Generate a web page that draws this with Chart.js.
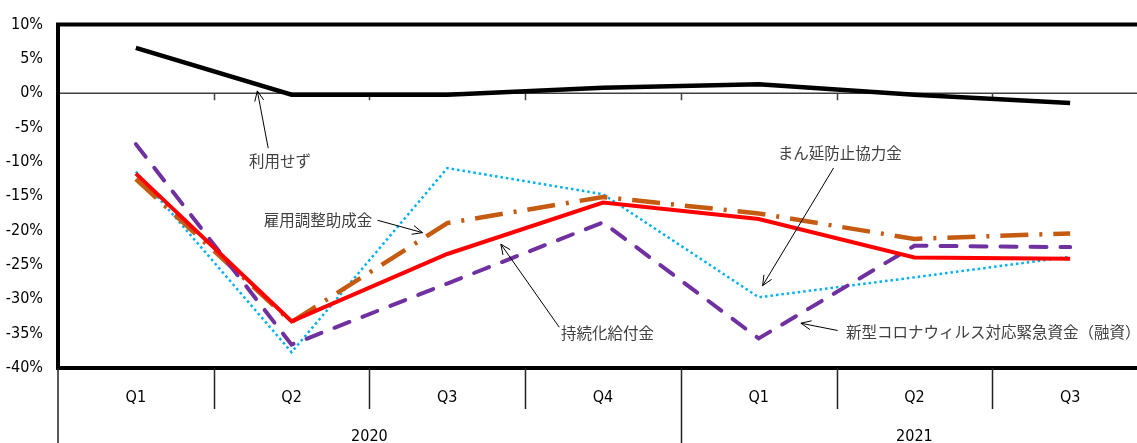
<!DOCTYPE html>
<html>
<head>
<meta charset="utf-8">
<script src="https://cdn.jsdelivr.net/npm/chart.js@4"></script>
<style>
html, body { margin: 0; padding: 0; background: #fff; overflow: hidden; }
#wrap { width: 1160px; height: 443px; }
</style>
</head>
<body>
<div id="wrap"><canvas id="subsidyChart" width="1160" height="443"></canvas></div>
<script>
const quarters = ['Q1', 'Q2', 'Q3', 'Q4', 'Q1', 'Q2', 'Q3'];
const years = [
  { label: '2020', from: 0, to: 3 },
  { label: '2021', from: 4, to: 6 }
];

const notUsed      = [6.6, -0.2, -0.2, 0.8, 1.3, -0.2, -1.4];
const jizokuka     = [-11.7, -33.2, -23.4, -15.9, -18.3, -23.9, -24.1];
const koyouChousei = [-12.5, -33.3, -18.9, -15.1, -17.5, -21.2, -20.4];
const coronaLoan   = [-7.4, -36.6, -27.7, -18.8, -35.7, -22.2, -22.4];
const manenBoushi  = [-11.4, -37.7, -10.9, -14.7, -29.7, -26.8, -23.8];

const yTicks = { min: -40, max: 10, step: 5 };

// callout text + arrow, in category index / percent units
const callouts = [
  { text: '利用せず', x: 0.726, y: -9.9, from: [0.85, -8.0], to: [0.78, 0.35] },
  { text: '雇用調整助成金', x: 0.822, y: -18.45, from: [1.552, -18.49], to: [1.841, -20.29] },
  { text: '持続化給付金', x: 2.730, y: -34.97, from: [2.719, -34.06], to: [2.344, -21.97] },
  { text: 'まん延防止協力金', x: 4.123, y: -8.70, from: [4.481, -10.87], to: [4.025, -28.01] },
  { text: '新型コロナウィルス対応緊急資金（融資）', x: 4.560, y: -34.78, from: [4.507, -34.54], to: [4.271, -33.48] }
];

const latinFont = "'Liberation Sans Narrow', 'DejaVu Sans Condensed', sans-serif";
const cjkFont = "'Noto Sans CJK JP', sans-serif";

function xAt(scale, v) {
  // fractional category index -> pixel
  const p0 = scale.getPixelForValue(0);
  const p1 = scale.getPixelForValue(1);
  return p0 + (p1 - p0) * v;
}

function drawArrow(ctx, x1, y1, x2, y2) {
  const ang = Math.atan2(y2 - y1, x2 - x1);
  const len = 11, spread = 0.42;
  ctx.beginPath();
  ctx.moveTo(x1, y1);
  ctx.lineTo(x2, y2);
  ctx.moveTo(x2 - len * Math.cos(ang - spread), y2 - len * Math.sin(ang - spread));
  ctx.lineTo(x2, y2);
  ctx.lineTo(x2 - len * Math.cos(ang + spread), y2 - len * Math.sin(ang + spread));
  ctx.stroke();
}

const framePlugin = {
  id: 'frame',
  beforeDatasetsDraw(chart) {
    const ctx = chart.ctx;
    const xs = chart.scales.x, ys = chart.scales.y;
    const a = chart.chartArea;
    const y0 = ys.getPixelForValue(0);
    const half = (xs.getPixelForValue(1) - xs.getPixelForValue(0)) / 2;
    ctx.save();
    // zero line with small ticks at category boundaries
    ctx.strokeStyle = '#404040';
    ctx.lineWidth = 1.5;
    ctx.beginPath();
    ctx.moveTo(a.left, y0);
    ctx.lineTo(a.right, y0);
    for (let i = 0; i < quarters.length - 1; i++) {
      const bx = Math.round(xs.getPixelForValue(i) + half) + 0.5;
      ctx.moveTo(bx, y0);
      ctx.lineTo(bx, y0 + 7);
    }
    ctx.stroke();
    ctx.restore();
  },
  afterDraw(chart) {
    const ctx = chart.ctx;
    const xs = chart.scales.x, ys = chart.scales.y;
    const a = chart.chartArea;
    const half = (xs.getPixelForValue(1) - xs.getPixelForValue(0)) / 2;
    ctx.save();

    // plot frame: top, left, bottom
    ctx.strokeStyle = '#000';
    ctx.lineWidth = 4;
    ctx.beginPath();
    ctx.moveTo(a.right + 10, a.top);
    ctx.lineTo(a.left, a.top);
    ctx.lineTo(a.left, a.bottom);
    ctx.lineTo(a.right + 10, a.bottom);
    ctx.stroke();

    // category separators below the axis
    const yearStarts = years.map(y => y.from);
    ctx.lineWidth = 1.5;
    ctx.strokeStyle = '#222';
    ctx.beginPath();
    ctx.moveTo(a.left, a.bottom);
    ctx.lineTo(a.left, chart.height);
    for (let i = 0; i < quarters.length - 1; i++) {
      const bx = Math.round(xs.getPixelForValue(i) + half) + 0.5;
      const full = yearStarts.includes(i + 1);
      ctx.moveTo(bx, a.bottom);
      ctx.lineTo(bx, full ? chart.height : a.bottom + 41);
    }
    ctx.stroke();

    // year labels under their quarters
    ctx.fillStyle = '#000';
    ctx.font = '16px ' + latinFont;
    ctx.textAlign = 'center';
    ctx.textBaseline = 'middle';
    years.forEach(y => {
      const cx = (xs.getPixelForValue(y.from) + xs.getPixelForValue(y.to)) / 2;
      ctx.fillText(y.label, cx, a.bottom + 69);
    });

    // callouts
    ctx.font = '15.5px ' + cjkFont;
    ctx.textAlign = 'left';
    ctx.fillStyle = '#404040';
    ctx.strokeStyle = '#000';
    ctx.lineWidth = 1;
    callouts.forEach(c => {
      ctx.fillText(c.text, xAt(xs, c.x), ys.getPixelForValue(c.y));
      drawArrow(ctx,
        xAt(xs, c.from[0]), ys.getPixelForValue(c.from[1]),
        xAt(xs, c.to[0]), ys.getPixelForValue(c.to[1]));
    });
    ctx.restore();
  }
};

new Chart(document.getElementById('subsidyChart'), {
  type: 'line',
  data: {
    labels: quarters,
    datasets: [
      { label: '利用せず', data: notUsed, borderColor: '#000', borderWidth: 4.5, order: 1 },
      { label: '持続化給付金', data: jizokuka, borderColor: '#ff0000', borderWidth: 4, order: 2 },
      { label: '新型コロナウィルス対応緊急資金（融資）', data: coronaLoan, borderColor: '#7030a0', borderWidth: 4,
        borderDash: [16, 14], borderCapStyle: 'round', order: 3 },
      { label: '雇用調整助成金', data: koyouChousei, borderColor: '#c55a11', borderWidth: 4.5,
        borderDash: [28, 11, 3, 11], order: 4 },
      { label: 'まん延防止協力金', data: manenBoushi, borderColor: '#00b0f0', borderWidth: 2.5,
        borderDash: [2.5, 3], order: 5 }
    ]
  },
  options: {
    responsive: false,
    animation: false,
    devicePixelRatio: 1,
    layout: { padding: { top: 22, left: 0, right: 12, bottom: 0 } },
    elements: { point: { radius: 0 }, line: { tension: 0 } },
    plugins: { legend: { display: false }, tooltip: { enabled: false } },
    scales: {
      x: {
        type: 'category',
        offset: true,
        grid: { display: false },
        border: { display: false },
        ticks: { color: '#000', font: { family: latinFont, size: 16 }, padding: 12, maxRotation: 0, autoSkip: false },
        afterFit(s) { s.height = 75; }
      },
      y: {
        min: yTicks.min,
        max: yTicks.max,
        grid: { display: false, drawTicks: false },
        border: { display: false },
        ticks: {
          stepSize: yTicks.step,
          color: '#000',
          font: { family: latinFont, size: 16 },
          padding: 15,
          callback: v => v + '%'
        },
        afterFit(s) { s.width = 58; }
      }
    }
  },
  plugins: [framePlugin]
});
</script>
</body>
</html>
